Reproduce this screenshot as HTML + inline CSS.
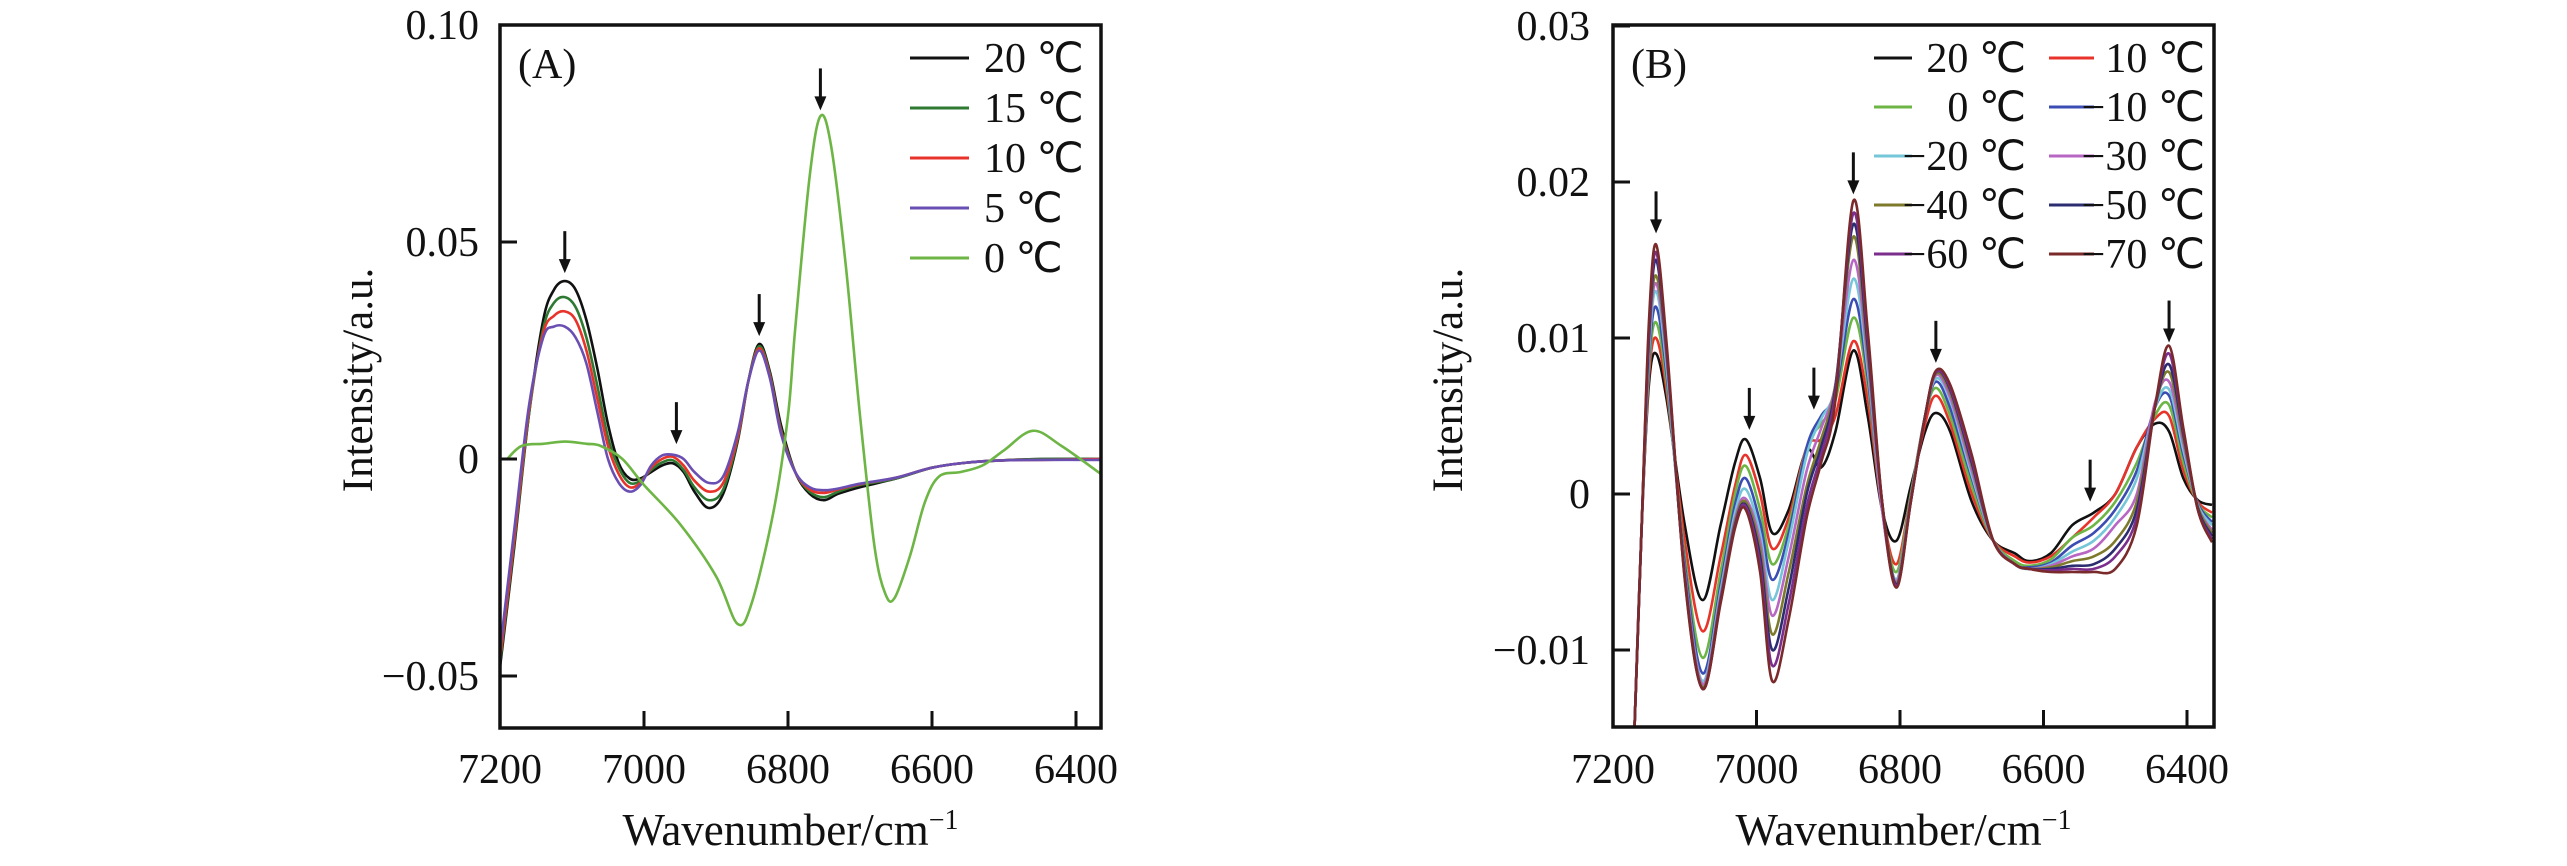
<!DOCTYPE html>
<html><head><meta charset="utf-8"><style>
html,body{margin:0;padding:0;background:#fff;}
svg{display:block;font-family:"Liberation Serif",serif;}
</style></head><body>
<svg id="fig" width="2567" height="866" viewBox="0 0 2567 866" xmlns="http://www.w3.org/2000/svg">
<defs>
<clipPath id="clipA"><rect x="500" y="25" width="601" height="703"/></clipPath>
<clipPath id="clipB"><rect x="1613" y="25" width="601" height="702"/></clipPath>
</defs>
<g id="panelA"></g>
<g id="panelB"></g>
</svg>
<script>
// ---------- Panel A data ----------
const xA = [7200,7180,7160,7140,7125,7110,7095,7080,7065,7050,7035,7020,7005,6990,6975,6960,6945,6930,6910,6890,6870,6855,6840,6825,6810,6790,6770,6750,6730,6700,6650,6600,6550,6500,6450,6365];
const a20 = [-0.048,-0.02,0.01,0.032,0.039,0.041,0.039,0.032,0.021,0.008,-0.001,-0.0045,-0.0045,-0.003,-0.0015,-0.001,-0.003,-0.0075,-0.0113,-0.008,0.004,0.018,0.0265,0.02,0.008,-0.003,-0.008,-0.0095,-0.008,-0.0065,-0.0045,-0.002,-0.0008,-0.0003,0,0];
const a15 = [-0.047,-0.019,0.01,0.03,0.036,0.0373,0.035,0.028,0.017,0.005,-0.002,-0.0055,-0.005,-0.0025,-0.0008,-0.0003,-0.0025,-0.0065,-0.0095,-0.007,0.0045,0.018,0.026,0.0195,0.007,-0.003,-0.0075,-0.0088,-0.0075,-0.006,-0.0045,-0.002,-0.0008,-0.0003,0,0];
const a10 = [-0.046,-0.018,0.011,0.029,0.033,0.034,0.032,0.025,0.014,0.003,-0.0035,-0.0065,-0.0055,-0.002,0.0,0.0005,-0.0015,-0.005,-0.0075,-0.0055,0.005,0.018,0.0255,0.019,0.0065,-0.003,-0.007,-0.0078,-0.007,-0.0058,-0.0043,-0.002,-0.0008,-0.0003,-0.0002,0];
const a5 = [-0.044,-0.016,0.012,0.028,0.0305,0.0305,0.028,0.022,0.011,0.0,-0.0055,-0.0075,-0.006,-0.0015,0.0008,0.001,0.0,-0.003,-0.0055,-0.004,0.006,0.018,0.025,0.0185,0.006,-0.003,-0.0065,-0.0072,-0.0068,-0.0057,-0.0043,-0.002,-0.0008,-0.0003,-0.0002,-0.0002];
const xA0 = [7190,7170,7140,7110,7080,7060,7030,7000,6950,6900,6870,6850,6820,6800,6790,6770,6755,6740,6720,6700,6680,6665,6652,6630,6610,6590,6560,6530,6500,6460,6420,6365];
const a0 = [0,0.003,0.0035,0.004,0.0035,0.003,0.0,-0.006,-0.015,-0.027,-0.038,-0.033,-0.012,0.01,0.03,0.065,0.079,0.072,0.045,0.01,-0.02,-0.031,-0.032,-0.022,-0.01,-0.004,-0.003,-0.0015,0.002,0.0065,0.003,-0.0035];
const yTicksA = [0.10,0.05,0,-0.05];
const yTickLabelsA = ["0.10","0.05","0","\u22120.05"];
const xTicks = [7200,7000,6800,6600,6400];
const legendA = ["20 \u2103","15 \u2103","10 \u2103","5 \u2103","0 \u2103"];
const arrowsA = [7110,6955,6840,6755];
const arrowTopsA = [0.0525,0.0131,0.038,0.090];

// ---------- Panel B data ----------
const xB = [7170,7160,7150,7140,7125,7100,7075,7050,7030,7015,6995,6978,6955,6930,6910,6890,6865,6845,6825,6805,6785,6765,6750,6730,6700,6670,6640,6620,6590,6560,6530,6500,6470,6445,6425,6405,6385,6365];
const b20 = [-0.015,-0.002,0.007,0.009,0.006,-0.002,-0.0068,-0.002,0.002,0.0035,0.001,-0.0025,-0.001,0.0028,0.0017,0.004,0.0092,0.005,-0.001,-0.003,0.0005,0.004,0.0052,0.004,-0.0005,-0.003,-0.0038,-0.0043,-0.0038,-0.002,-0.0012,0.0,0.003,0.0045,0.004,0.001,-0.0004,-0.0007];
const b10 = [-0.015,-0.002,0.0075,0.010,0.0065,-0.003,-0.0088,-0.004,0.0005,0.0025,0.0,-0.0035,-0.0015,0.003,0.0035,0.005,0.0098,0.006,-0.001,-0.0045,0.0,0.0045,0.0063,0.0045,0.0,-0.003,-0.004,-0.0044,-0.004,-0.0028,-0.0015,0.0,0.003,0.0048,0.005,0.0015,-0.0005,-0.0012];
const b0 = [-0.015,-0.002,0.008,0.011,0.007,-0.004,-0.0105,-0.005,0.0,0.0018,-0.001,-0.0045,-0.002,0.003,0.0045,0.006,0.0113,0.007,-0.001,-0.005,0.0,0.005,0.0068,0.005,0.0005,-0.003,-0.0043,-0.0046,-0.0042,-0.0028,-0.002,-0.0005,0.002,0.005,0.0057,0.002,-0.0006,-0.0015];
const bm10 = [-0.015,-0.002,0.0085,0.012,0.0075,-0.0045,-0.0115,-0.0058,-0.0007,0.001,-0.0018,-0.0055,-0.0025,0.003,0.005,0.0065,0.0125,0.0075,-0.001,-0.0055,-0.0002,0.005,0.0072,0.0055,0.001,-0.003,-0.0045,-0.0047,-0.0044,-0.0033,-0.0025,-0.001,0.0015,0.0055,0.0063,0.0025,-0.0006,-0.0018];
const bm20 = [-0.015,-0.002,0.009,0.013,0.008,-0.005,-0.012,-0.0062,-0.0012,0.0003,-0.0025,-0.0068,-0.003,0.0025,0.0048,0.0068,0.0138,0.008,-0.001,-0.0055,-0.0003,0.005,0.0074,0.006,0.0012,-0.003,-0.0045,-0.0048,-0.0045,-0.0037,-0.003,-0.0015,0.001,0.0055,0.0067,0.0028,-0.0007,-0.002];
const bm30 = [-0.015,-0.002,0.0095,0.0135,0.0085,-0.005,-0.0122,-0.0065,-0.0016,-0.0003,-0.003,-0.0078,-0.004,0.0015,0.0042,0.007,0.015,0.0085,-0.001,-0.0056,-0.0003,0.005,0.0076,0.0062,0.0015,-0.003,-0.0045,-0.0048,-0.0046,-0.004,-0.0035,-0.002,0.0,0.0058,0.0072,0.0032,-0.0008,-0.0023];
const bm40 = [-0.015,-0.002,0.0098,0.014,0.0088,-0.0052,-0.0124,-0.0067,-0.0018,-0.0005,-0.0035,-0.009,-0.005,0.0005,0.0035,0.007,0.0165,0.009,-0.0005,-0.0057,-0.0004,0.005,0.0077,0.0065,0.0018,-0.003,-0.0045,-0.0048,-0.0047,-0.0043,-0.004,-0.003,-0.0005,0.0055,0.0078,0.0035,-0.0008,-0.0025];
const bm50 = [-0.015,-0.002,0.010,0.015,0.009,-0.0053,-0.0125,-0.0068,-0.002,-0.0007,-0.004,-0.010,-0.006,0.0,0.003,0.0068,0.0173,0.0095,-0.0005,-0.0058,-0.0005,0.005,0.0078,0.0067,0.002,-0.003,-0.0045,-0.0048,-0.0048,-0.0046,-0.0045,-0.0035,-0.001,0.0055,0.0083,0.0038,-0.0009,-0.0027];
const bm60 = [-0.015,-0.002,0.0105,0.0155,0.0092,-0.0054,-0.0125,-0.0069,-0.0021,-0.0008,-0.0045,-0.011,-0.007,-0.0008,0.0025,0.0065,0.018,0.010,-0.0005,-0.0059,-0.0005,0.005,0.0078,0.0068,0.0022,-0.003,-0.0045,-0.0048,-0.0049,-0.0048,-0.0048,-0.004,-0.0015,0.0055,0.009,0.004,-0.001,-0.0029];
const bm70 = [-0.015,-0.002,0.011,0.016,0.0095,-0.0055,-0.0125,-0.007,-0.0022,-0.001,-0.005,-0.012,-0.008,-0.0015,0.002,0.006,0.0188,0.0105,-0.0005,-0.006,-0.0005,0.005,0.0079,0.007,0.0025,-0.003,-0.0045,-0.0048,-0.005,-0.005,-0.005,-0.0048,-0.002,0.0055,0.0095,0.0042,-0.001,-0.0031];
const yTicksB = [0.03,0.02,0.01,0,-0.01];
const yTickLabelsB = ["0.03","0.02","0.01","0","\u22120.01"];
const legendB = ["20 \u2103","10 \u2103","0 \u2103","\u221210 \u2103","\u221220 \u2103","\u221230 \u2103","\u221240 \u2103","\u221250 \u2103","\u221260 \u2103","\u221270 \u2103"];
const arrowsB = [7140,7010,6920,6865,6750,6535,6425];
const arrowTopsB = [0.0194,0.0068,0.0081,0.0219,0.0111,0.0022,0.0124];

const NS = "http://www.w3.org/2000/svg";
function mk(tag, attrs, parent){
  const e = document.createElementNS(NS, tag);
  for (const k in attrs) e.setAttribute(k, attrs[k]);
  parent.appendChild(e);
  return e;
}
function smoothPath(pts){
  let d = "M" + pts[0][0].toFixed(1) + "," + pts[0][1].toFixed(1);
  for (let i=0;i<pts.length-1;i++){
    const p0 = pts[Math.max(0,i-1)], p1 = pts[i], p2 = pts[i+1], p3 = pts[Math.min(pts.length-1,i+2)];
    const c1x = p1[0]+(p2[0]-p0[0])/6, c1y = p1[1]+(p2[1]-p0[1])/6;
    const c2x = p2[0]-(p3[0]-p1[0])/6, c2y = p2[1]-(p3[1]-p1[1])/6;
    d += " C"+c1x.toFixed(1)+","+c1y.toFixed(1)+" "+c2x.toFixed(1)+","+c2y.toFixed(1)+" "+p2[0].toFixed(1)+","+p2[1].toFixed(1);
  }
  return d;
}

function drawPanel(cfg){
  const g = document.getElementById(cfg.gid);
  const L=cfg.L, R=cfg.R, T=cfg.T, B=cfg.B;
  const sx = v => L + (7200 - v) * cfg.pxPerUnit;
  const sy = v => cfg.y0 - v * cfg.pxPerVal;
  const sg = mk("g", {"clip-path":"url(#"+cfg.clip+")"}, g);
  
  
  cfg.series.forEach(s=>{
    const pts = s.x.map((xv,i)=>[sx(xv), sy(s.y[i])]);
    const p = mk("path", {d:smoothPath(pts), fill:"none", stroke:s.color, "stroke-width":"2.6", "stroke-linejoin":"round"}, sg);
    
    
  });
  const fr = mk("rect", {x:L, y:T, width:R-L, height:B-T, fill:"none", stroke:"#111", "stroke-width":"3.5"}, g);
  
  
  cfg.yTicks.forEach((v,i)=>{
    const y = sy(v);
    const t = mk("line", {x1:L, x2:L+17, y1:y, y2:y, stroke:"#111", "stroke-width":"3"}, g);
    
    
    const tx = mk("text", {x:cfg.yLabelRight, y:y+14, "text-anchor":"end", "font-size":"42", fill:"#111"}, g);
    tx.textContent = cfg.yTickLabels[i];
    
    
  });
  xTicks.forEach(v=>{
    const x = sx(v);
    if (v !== 7200){
      const t = mk("line", {x1:x, x2:x, y1:B, y2:B-17, stroke:"#111", "stroke-width":"3"}, g);
      
      
    }
    const tx = mk("text", {x:x, y:783, "text-anchor":"middle", "font-size":"42", fill:"#111"}, g);
    tx.textContent = String(v);
    
    
  });
  const xt = mk("text", {x:(L+R)/2 - 10, y:845, "text-anchor":"middle", "font-size":"45", fill:"#111"}, g);
  xt.innerHTML = 'Wavenumber/cm<tspan dy="-16" font-size="28">\u22121</tspan>';
  
  
  const yt = mk("text", {x:0, y:0, "text-anchor":"middle", "font-size":"43", fill:"#111", transform:"translate("+cfg.yTitleX+",380) rotate(-90)"}, g);
  yt.textContent = "Intensity/a.u.";
  
  
  const pl = mk("text", {x:L+18, y:78, "font-size":"42", fill:"#111"}, g);
  pl.textContent = cfg.label;
  
  
  cfg.arrows.forEach((v,i)=>{
    const x = sx(v), yTop = sy(cfg.arrowTops[i]);
    const ag = mk("g", {}, g);
    
    
    mk("line", {x1:x, x2:x, y1:yTop, y2:yTop+30, stroke:"#111", "stroke-width":"3"}, ag);
    mk("polygon", {points:(x-6)+","+(yTop+28)+" "+(x+6)+","+(yTop+28)+" "+x+","+(yTop+42), fill:"#111"}, ag);
  });
  cfg.legend.forEach((lab,i)=>{
    const pos = cfg.legendPos(i);
    const lg = mk("g", {}, g);
    
    
    mk("line", {x1:pos.lx1, x2:pos.lx2, y1:pos.y, y2:pos.y, stroke:cfg.series[cfg.legendSeries[i]].color, "stroke-width":"3"}, lg);
    const t = mk("text", {x:pos.tx, y:pos.y+14, "text-anchor":pos.anchor, "font-size":"42", fill:"#111"}, lg);
    t.textContent = lab;
  });
}

drawPanel({
  gid:"panelA", clip:"clipA", L:500, R:1101, T:25, B:728, pxPerUnit:0.72, y0:459, pxPerVal:4340,
  yTicks:yTicksA, yTickLabels:yTickLabelsA, yLabelRight:479, yTitleX:372, label:"(A)",
  arrows:arrowsA, arrowTops:arrowTopsA,
  series:[
    {name:"series-20c", x:xA, y:a20, color:"#111111"},
    {name:"series-15c", x:xA, y:a15, color:"#2f7a33"},
    {name:"series-10c", x:xA, y:a10, color:"#e8332b"},
    {name:"series-5c", x:xA, y:a5, color:"#6a4fb3"},
    {name:"series-0c", x:xA0, y:a0, color:"#6db544"}
  ],
  legend:legendA, legendSeries:[0,1,2,3,4],
  legendPos:i=>({lx1:910, lx2:969, y:58+i*50, tx:984, anchor:"start"})
});

drawPanel({
  gid:"panelB", clip:"clipB", L:1613, R:2214, T:25, B:727, pxPerUnit:0.7175, y0:494, pxPerVal:15600,
  yTicks:yTicksB, yTickLabels:yTickLabelsB, yLabelRight:1590, yTitleX:1462, label:"(B)",
  arrows:arrowsB, arrowTops:arrowTopsB,
  series:[
    {name:"series-20c", x:xB, y:b20, color:"#111111"},
    {name:"series-10c", x:xB, y:b10, color:"#e8332b"},
    {name:"series-0c", x:xB, y:b0, color:"#6db544"},
    {name:"series-minus10c", x:xB, y:bm10, color:"#3b4cb2"},
    {name:"series-minus20c", x:xB, y:bm20, color:"#74c6d8"},
    {name:"series-minus30c", x:xB, y:bm30, color:"#b866c4"},
    {name:"series-minus40c", x:xB, y:bm40, color:"#7d7a2c"},
    {name:"series-minus50c", x:xB, y:bm50, color:"#2c2c70"},
    {name:"series-minus60c", x:xB, y:bm60, color:"#7b2e8c"},
    {name:"series-minus70c", x:xB, y:bm70, color:"#7a2a2a"}
  ],
  legend:legendB, legendSeries:[0,1,2,3,4,5,6,7,8,9],
  legendPos:i=>{
    const col = i%2, row = Math.floor(i/2);
    return col===0 ? {lx1:1874, lx2:1912, y:58+row*49, tx:2026, anchor:"end"}
                   : {lx1:2049, lx2:2094, y:58+row*49, tx:2205, anchor:"end"};
  }
});
</script>
</body></html>
